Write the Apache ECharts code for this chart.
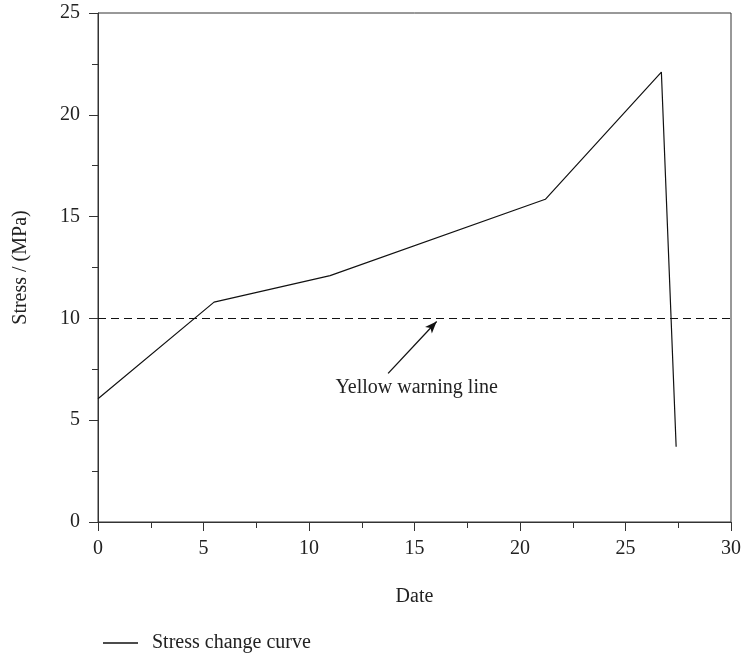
<!DOCTYPE html>
<html>
<head>
<meta charset="utf-8">
<script src="https://cdn.jsdelivr.net/npm/echarts@6/dist/echarts.min.js"></script>
<style>
  html, body { margin: 0; padding: 0; background: #fff; }
  #chart { width: 741px; height: 655px; }
</style>
</head>
<body>
<div id="chart"></div>
<script>
// data
var dates = [0, 5.5, 11, 21.2, 26.7, 27.4];
var stress = [6.05, 10.8, 12.1, 15.85, 22.1, 3.7];
var warningLevel = 10;
var arrowFrom = [13.75, 7.3];
var arrowTo = [16.05, 9.85];
var notePos = [15.1, 6.6];
var noteText = 'Yellow warning line';

var font = 'Liberation Serif';
var ink = '#222';
var fs = 20;

var chart = echarts.init(document.getElementById('chart'));
var points = dates.map(function (d, i) { return [d, stress[i]]; });

var option = {
    animation: false,
    textStyle: { fontFamily: font },
    grid: {
        left: 98, right: 10, top: 13, bottom: 133,
        containLabel: false, outerBoundsMode: 'none',
        show: true, borderColor: '#333', borderWidth: 1
    },
    legend: {
        data: ['Stress change curve'],
        left: 98, top: 628,
        icon: 'rect', itemWidth: 35, itemHeight: 1.4,
        itemStyle: { color: '#111' },
        textStyle: { fontFamily: font, fontSize: fs, color: ink, padding: [0, 0, 0, 9] }
    },
    xAxis: {
        type: 'value', min: 0, max: 30, interval: 5,
        name: 'Date', nameLocation: 'middle', nameGap: 65,
        nameTextStyle: { fontFamily: font, fontSize: fs, color: ink },
        axisLine: { show: true, lineStyle: { color: '#333' } },
        axisTick: { show: true, inside: false, length: 9, lineStyle: { color: '#333' } },
        minorTick: { show: true, splitNumber: 2, length: 6, lineStyle: { color: '#333' } },
        axisLabel: { fontFamily: font, fontSize: fs, color: ink, margin: 17 },
        splitLine: { show: false }
    },
    yAxis: {
        type: 'value', min: 0, max: 25, interval: 5,
        name: 'Stress / (MPa)', nameLocation: 'middle', nameGap: 67,
        nameTextStyle: { fontFamily: font, fontSize: fs, color: ink },
        axisLine: { show: true, lineStyle: { color: '#333' } },
        axisTick: { show: true, inside: false, length: 9, lineStyle: { color: '#333' } },
        minorTick: { show: true, splitNumber: 2, length: 6, lineStyle: { color: '#333' } },
        axisLabel: { fontFamily: font, fontSize: fs, color: ink, margin: 18 },
        splitLine: { show: false }
    },
    series: [
        {
            name: 'Stress change curve',
            type: 'line',
            data: points,
            symbol: 'none',
            color: '#111',
            lineStyle: { color: '#111', width: 1.2 },
            markLine: {
                silent: true,
                animation: false,
                label: { show: false },
                data: [
                    [
                        { coord: [0, warningLevel], symbol: 'none' },
                        { coord: [30, warningLevel], symbol: 'none' }
                    ],
                    [
                        { coord: arrowFrom, symbol: 'none' },
                        { coord: arrowTo, symbol: 'arrow', symbolSize: [7, 12],
                          lineStyle: { type: 'solid', width: 1.3 } }
                    ]
                ],
                lineStyle: { color: '#111', type: [8, 5], width: 1 }
            },
            markPoint: {
                silent: true,
                symbol: 'circle', symbolSize: 0,
                data: [{ coord: notePos }],
                label: {
                    show: true, position: 'inside',
                    formatter: noteText,
                    fontFamily: font, fontSize: fs, color: ink
                }
            }
        }
    ]
};

chart.setOption(option);
</script>
</body>
</html>
